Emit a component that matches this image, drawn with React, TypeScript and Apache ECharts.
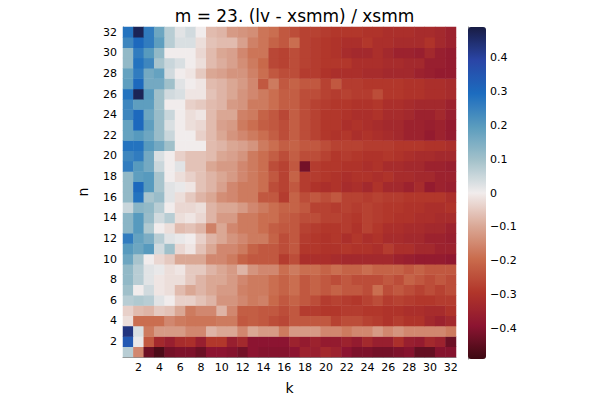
import React, { useEffect, useRef } from "react";
import * as echarts from "echarts";

// k categories (x axis) and n categories (y axis)
const kCategories = ["1","2","3","4","5","6","7","8","9","10","11","12","13","14","15","16","17","18","19","20","21","22","23","24","25","26","27","28","29","30","31","32"];
const nCategories = ["1","2","3","4","5","6","7","8","9","10","11","12","13","14","15","16","17","18","19","20","21","22","23","24","25","26","27","28","29","30","31","32"];

// values per row n (k = 1..32)
const n01 = [0.07,-0.15,-0.43,-0.47,-0.42,-0.41,-0.41,-0.43,-0.39,-0.39,-0.4,-0.42,-0.39,-0.4,-0.4,-0.4,-0.39,-0.35,-0.36,-0.33,-0.35,-0.39,-0.41,-0.41,-0.42,-0.42,-0.41,-0.4,-0.44,-0.44,-0.4,-0.4];
const n02 = [0.34,0.01,-0.23,-0.33,-0.36,-0.32,-0.31,-0.36,-0.29,-0.29,-0.36,-0.33,-0.39,-0.39,-0.39,-0.39,-0.35,-0.37,-0.35,-0.37,-0.37,-0.35,-0.37,-0.33,-0.36,-0.36,-0.31,-0.36,-0.37,-0.33,-0.35,-0.43];
const n03 = [0.43,0.03,-0.17,-0.12,-0.12,-0.12,-0.15,-0.15,-0.08,-0.1,-0.1,-0.15,-0.1,-0.12,-0.12,-0.17,-0.12,-0.12,-0.12,-0.15,-0.15,-0.17,-0.15,-0.15,-0.12,-0.15,-0.13,-0.15,-0.15,-0.15,-0.15,-0.17];
const n04 = [-0.02,-0.19,-0.19,-0.19,-0.15,-0.17,-0.18,-0.18,-0.18,-0.17,-0.17,-0.23,-0.22,-0.23,-0.25,-0.26,-0.23,-0.23,-0.23,-0.23,-0.27,-0.25,-0.25,-0.27,-0.28,-0.3,-0.28,-0.3,-0.3,-0.33,-0.35,-0.33];
const n05 = [-0.04,-0.07,-0.08,-0.05,-0.06,-0.1,-0.17,-0.15,-0.15,-0.08,-0.15,-0.22,-0.22,-0.23,-0.23,-0.25,-0.23,-0.28,-0.28,-0.29,-0.29,-0.28,-0.28,-0.29,-0.29,-0.3,-0.3,-0.31,-0.31,-0.32,-0.32,-0.3];
const n06 = [0.07,0.08,0.07,0.02,0.0,-0.04,-0.04,-0.06,-0.08,-0.13,-0.13,-0.15,-0.17,-0.16,-0.2,-0.23,-0.21,-0.23,-0.25,-0.28,-0.27,-0.28,-0.29,-0.27,-0.25,-0.28,-0.27,-0.28,-0.29,-0.29,-0.28,-0.28];
const n07 = [0.1,0.0,0.04,-0.01,-0.02,-0.07,-0.1,-0.08,-0.1,-0.12,-0.12,-0.16,-0.17,-0.17,-0.19,-0.21,-0.19,-0.23,-0.21,-0.23,-0.21,-0.23,-0.23,-0.25,-0.19,-0.25,-0.23,-0.25,-0.27,-0.25,-0.27,-0.25];
const n08 = [0.12,0.07,0.02,-0.01,-0.02,-0.02,-0.05,-0.08,-0.1,-0.1,-0.12,-0.15,-0.17,-0.17,-0.19,-0.21,-0.19,-0.23,-0.21,-0.23,-0.25,-0.23,-0.25,-0.25,-0.25,-0.23,-0.25,-0.21,-0.23,-0.25,-0.23,-0.25];
const n09 = [0.12,0.07,0.02,0.01,-0.02,-0.01,-0.05,-0.05,-0.08,-0.1,-0.12,-0.08,-0.13,-0.15,-0.15,-0.19,-0.17,-0.19,-0.19,-0.21,-0.19,-0.21,-0.21,-0.19,-0.21,-0.21,-0.21,-0.23,-0.21,-0.23,-0.23,-0.23];
const n10 = [0.17,0.09,0.0,-0.03,-0.05,-0.1,-0.1,-0.1,-0.15,-0.15,-0.17,-0.21,-0.23,-0.23,-0.23,-0.28,-0.25,-0.31,-0.31,-0.31,-0.32,-0.33,-0.33,-0.33,-0.33,-0.33,-0.35,-0.36,-0.37,-0.37,-0.37,-0.38];
const n11 = [0.2,0.17,0.2,0.04,0.1,-0.03,-0.01,-0.06,-0.1,-0.15,-0.15,-0.17,-0.21,-0.23,-0.23,-0.25,-0.23,-0.29,-0.29,-0.3,-0.3,-0.29,-0.3,-0.3,-0.31,-0.28,-0.31,-0.31,-0.33,-0.33,-0.35,-0.35];
const n12 = [0.26,0.18,0.15,0.07,0.02,0.01,0.0,-0.04,-0.08,-0.1,-0.13,-0.15,-0.17,-0.17,-0.21,-0.25,-0.23,-0.28,-0.29,-0.3,-0.29,-0.31,-0.29,-0.31,-0.3,-0.32,-0.32,-0.33,-0.33,-0.35,-0.35,-0.36];
const n13 = [0.13,0.2,0.08,0.0,-0.02,-0.07,-0.06,-0.08,-0.16,-0.1,-0.15,-0.17,-0.17,-0.19,-0.22,-0.23,-0.23,-0.27,-0.28,-0.29,-0.29,-0.28,-0.3,-0.27,-0.29,-0.31,-0.31,-0.32,-0.32,-0.33,-0.33,-0.35];
const n14 = [0.13,0.2,0.11,0.04,0.07,-0.02,-0.01,-0.03,-0.08,-0.12,-0.12,-0.17,-0.17,-0.19,-0.19,-0.22,-0.23,-0.25,-0.25,-0.27,-0.27,-0.28,-0.29,-0.27,-0.28,-0.29,-0.3,-0.3,-0.31,-0.31,-0.32,-0.32];
const n15 = [0.05,0.13,0.12,0.07,0.0,-0.03,-0.03,-0.02,-0.08,-0.1,-0.1,-0.12,-0.15,-0.17,-0.19,-0.21,-0.21,-0.23,-0.27,-0.27,-0.28,-0.27,-0.28,-0.27,-0.28,-0.29,-0.29,-0.3,-0.3,-0.31,-0.31,-0.3];
const n16 = [0.12,0.28,0.09,0.11,0.02,-0.02,-0.05,-0.08,-0.1,-0.14,-0.15,-0.17,-0.17,-0.23,-0.23,-0.28,-0.21,-0.25,-0.23,-0.25,-0.23,-0.27,-0.27,-0.28,-0.27,-0.28,-0.28,-0.29,-0.29,-0.29,-0.29,-0.31];
const n17 = [0.12,0.3,0.2,0.09,0.02,0.01,-0.01,-0.06,-0.08,-0.11,-0.15,-0.17,-0.17,-0.19,-0.25,-0.27,-0.23,-0.28,-0.3,-0.31,-0.3,-0.32,-0.31,-0.33,-0.3,-0.33,-0.33,-0.35,-0.32,-0.37,-0.35,-0.36];
const n18 = [0.12,0.19,0.2,0.09,0.0,-0.02,-0.04,-0.06,-0.08,-0.1,-0.12,-0.15,-0.17,-0.19,-0.23,-0.27,-0.21,-0.28,-0.28,-0.29,-0.3,-0.31,-0.3,-0.3,-0.31,-0.3,-0.32,-0.32,-0.33,-0.33,-0.35,-0.35];
const n19 = [0.26,0.2,0.16,0.05,0.0,0.02,-0.06,-0.06,-0.1,-0.12,-0.12,-0.15,-0.17,-0.19,-0.25,-0.27,-0.23,-0.42,-0.28,-0.29,-0.29,-0.3,-0.3,-0.31,-0.3,-0.32,-0.32,-0.33,-0.33,-0.35,-0.35,-0.36];
const n20 = [0.24,0.26,0.16,0.03,0.0,-0.04,-0.06,-0.06,-0.07,-0.1,-0.11,-0.13,-0.17,-0.19,-0.22,-0.25,-0.22,-0.25,-0.25,-0.27,-0.29,-0.28,-0.29,-0.3,-0.3,-0.29,-0.3,-0.31,-0.32,-0.32,-0.33,-0.33];
const n21 = [0.28,0.28,0.2,0.16,0.1,0.0,0.0,0.0,-0.07,-0.08,-0.1,-0.11,-0.13,-0.17,-0.19,-0.22,-0.21,-0.23,-0.23,-0.25,-0.27,-0.27,-0.27,-0.28,-0.28,-0.28,-0.29,-0.29,-0.29,-0.3,-0.3,-0.31];
const n22 = [0.18,0.2,0.17,0.11,0.05,0.0,0.0,-0.04,-0.07,-0.1,-0.13,-0.15,-0.17,-0.19,-0.22,-0.25,-0.22,-0.25,-0.27,-0.29,-0.3,-0.29,-0.31,-0.3,-0.31,-0.32,-0.33,-0.35,-0.35,-0.37,-0.35,-0.37];
const n23 = [0.18,0.3,0.19,0.11,0.03,0.0,-0.02,-0.03,-0.07,-0.11,-0.12,-0.17,-0.19,-0.22,-0.23,-0.25,-0.22,-0.25,-0.27,-0.29,-0.29,-0.31,-0.3,-0.31,-0.32,-0.33,-0.33,-0.35,-0.35,-0.36,-0.35,-0.37];
const n24 = [0.24,0.3,0.17,0.11,0.05,0.0,-0.02,-0.01,-0.07,-0.1,-0.1,-0.16,-0.17,-0.21,-0.23,-0.26,-0.22,-0.25,-0.27,-0.29,-0.29,-0.3,-0.31,-0.31,-0.3,-0.32,-0.32,-0.33,-0.35,-0.35,-0.33,-0.36];
const n25 = [0.24,0.19,0.19,0.1,0.0,0.0,-0.04,-0.05,-0.07,-0.08,-0.12,-0.13,-0.17,-0.17,-0.19,-0.22,-0.22,-0.25,-0.27,-0.28,-0.29,-0.29,-0.3,-0.3,-0.29,-0.31,-0.31,-0.32,-0.33,-0.33,-0.33,-0.35];
const n26 = [0.28,0.47,0.2,0.1,0.04,0.03,-0.01,-0.01,-0.06,-0.08,-0.1,-0.13,-0.15,-0.17,-0.19,-0.22,-0.22,-0.25,-0.25,-0.27,-0.28,-0.27,-0.28,-0.28,-0.25,-0.29,-0.29,-0.3,-0.3,-0.31,-0.31,-0.32];
const n27 = [0.19,0.3,0.16,0.16,0.1,0.02,0.0,-0.01,-0.07,-0.08,-0.1,-0.12,-0.15,-0.23,-0.17,-0.23,-0.21,-0.23,-0.23,-0.27,-0.23,-0.28,-0.28,-0.29,-0.29,-0.29,-0.29,-0.3,-0.3,-0.31,-0.31,-0.32];
const n28 = [0.18,0.26,0.16,0.18,0.04,0.0,-0.01,-0.05,-0.1,-0.11,-0.13,-0.13,-0.16,-0.19,-0.23,-0.25,-0.25,-0.28,-0.28,-0.3,-0.31,-0.31,-0.31,-0.32,-0.32,-0.33,-0.33,-0.33,-0.35,-0.36,-0.37,-0.37];
const n29 = [0.12,0.28,0.24,0.09,0.05,0.03,0.0,-0.02,-0.07,-0.09,-0.11,-0.14,-0.17,-0.2,-0.26,-0.27,-0.25,-0.27,-0.28,-0.29,-0.29,-0.29,-0.31,-0.31,-0.31,-0.32,-0.32,-0.33,-0.33,-0.36,-0.36,-0.37];
const n30 = [0.12,0.26,0.2,0.12,0.0,0.0,0.0,-0.03,-0.07,-0.1,-0.11,-0.15,-0.18,-0.18,-0.26,-0.27,-0.25,-0.27,-0.28,-0.29,-0.3,-0.32,-0.33,-0.33,-0.31,-0.33,-0.35,-0.35,-0.36,-0.33,-0.36,-0.37];
const n31 = [0.24,0.3,0.26,0.19,0.07,0.03,0.03,-0.02,-0.06,-0.07,-0.07,-0.11,-0.16,-0.18,-0.21,-0.23,-0.19,-0.27,-0.28,-0.29,-0.3,-0.31,-0.31,-0.29,-0.31,-0.31,-0.32,-0.32,-0.32,-0.3,-0.33,-0.35];
const n32 = [0.28,0.47,0.26,0.17,0.07,0.02,0.04,0.0,-0.07,-0.08,-0.12,-0.13,-0.14,-0.18,-0.19,-0.23,-0.25,-0.27,-0.27,-0.28,-0.29,-0.29,-0.29,-0.3,-0.3,-0.31,-0.31,-0.31,-0.32,-0.32,-0.33,-0.35];

const rows = [n01,n02,n03,n04,n05,n06,n07,n08,n09,n10,n11,n12,n13,n14,n15,n16,n17,n18,n19,n20,n21,n22,n23,n24,n25,n26,n27,n28,n29,n30,n31,n32];

const colorbarTicks = [-0.4, -0.3, -0.2, -0.1, 0, 0.1, 0.2, 0.3, 0.4];
const colorMin = -0.489;
const colorMax = 0.489;
const balance = ["#3c0912","#8c1431","#b1352a","#c96b4c","#daa896","#f1ecec","#a2c1ca","#5a9cbe","#1c6cbf","#2a45a6","#181c43"];

const FONT = "DejaVu Sans";

export default function App() {
  const ref = useRef<HTMLDivElement>(null);
  useEffect(() => {
    if (!ref.current) return;
    const chart = echarts.init(ref.current, null, { renderer: "svg" });
    const data: number[][] = [];
    rows.forEach((row, i) => row.forEach((v, j) => data.push([j, i, v])));
    const even = (_i: number, v: string) => Number(v) % 2 === 0;
    const fmt = (v: number) => {
      const r = Math.round(v * 10) / 10;
      if (r === 0) return "0";
      return r < 0 ? "\u2212" + Math.abs(r).toFixed(1) : r.toFixed(1);
    };
    chart.setOption({
      animation: false,
      backgroundColor: "#ffffff",
      title: {
        text: "m = 23. (lv - xsmm) / xsmm",
        left: 289.5,
        top: 2,
        textAlign: "center",
        textStyle: { fontFamily: FONT, fontSize: 17, fontWeight: "normal", color: "#000" },
      },
      grid: [
        { left: 123, top: 27, width: 333, height: 332 },
        { left: 468, top: 27, width: 18, height: 332 },
      ],
      xAxis: [
        {
          type: "category",
          gridIndex: 0,
          data: kCategories,
          name: "k",
          nameLocation: "middle",
          nameGap: 24,
          nameTextStyle: { fontFamily: FONT, fontSize: 14, color: "#000" },
          axisLine: { show: true, lineStyle: { color: "#888", width: 1 } },
          axisTick: { show: true, inside: true, length: 3, alignWithLabel: true, interval: even, lineStyle: { color: "#444" } },
          axisLabel: { interval: even, fontFamily: FONT, fontSize: 11, color: "#000", margin: 5 },
          splitLine: { show: false },
        },
        { type: "value", gridIndex: 1, show: false, min: 0, max: 1 },
      ],
      yAxis: [
        {
          type: "category",
          gridIndex: 0,
          data: nCategories,
          name: "n",
          nameLocation: "middle",
          nameGap: 33,
          nameTextStyle: { fontFamily: FONT, fontSize: 14, color: "#000" },
          axisLine: { show: true, lineStyle: { color: "#888", width: 1 } },
          axisTick: { show: true, inside: true, length: 3, alignWithLabel: true, interval: even, lineStyle: { color: "#444" } },
          axisLabel: { interval: even, fontFamily: FONT, fontSize: 11, color: "#000", margin: 6 },
          splitLine: { show: false },
        },
        {
          type: "value",
          gridIndex: 1,
          position: "right",
          min: colorMin,
          max: colorMax,
          axisLine: { show: true, lineStyle: { color: "#888", width: 1 } },
          axisTick: { show: true, length: 4, customValues: colorbarTicks, lineStyle: { color: "#888" } },
          axisLabel: { customValues: colorbarTicks, formatter: fmt, fontFamily: FONT, fontSize: 11, color: "#000", margin: 4 },
          splitLine: { show: false },
        },
      ],
      visualMap: {
        type: "continuous",
        min: colorMin,
        max: colorMax,
        seriesIndex: 0,
        show: true,
        orient: "vertical",
        left: 468,
        top: 27,
        padding: 0,
        itemWidth: 18,
        itemHeight: 332,
        calculable: false,
        hoverLink: false,
        inRange: { color: balance },
      },
      series: [
        {
          type: "heatmap",
          xAxisIndex: 0,
          yAxisIndex: 0,
          data,
          itemStyle: { borderWidth: 0 },
          emphasis: { disabled: true },
        },
      ],
    });
    return () => chart.dispose();
  }, []);
  return <div ref={ref} style={{ position: "fixed", left: 0, top: 0, width: 600, height: 400 }} />;
}
